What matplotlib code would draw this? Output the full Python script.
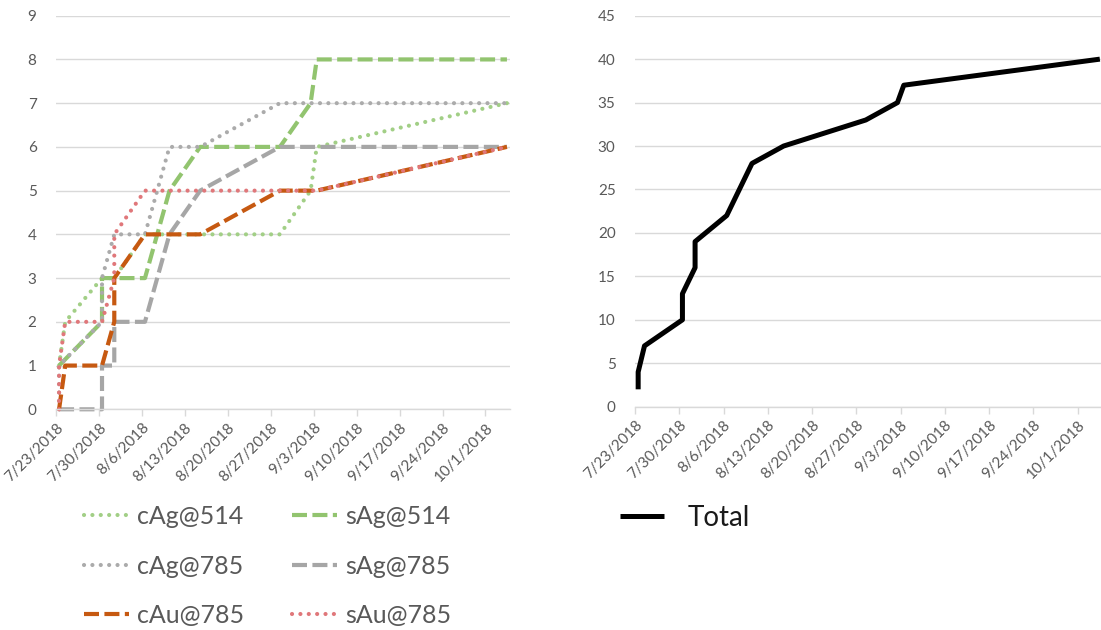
import matplotlib
matplotlib.use("Agg")
import matplotlib.pyplot as plt
import matplotlib.dates as mdates
import pandas as pd

plt.rcParams["font.family"] = ["Lato", "DejaVu Sans"]

# ---- data -------------------------------------------------------------
cag514_dates = ["2018-07-23", "2018-07-24", "2018-07-30", "2018-08-01", "2018-08-06",
                "2018-08-28", "2018-09-02", "2018-09-03", "2018-10-04"]
cag514_vals = [1, 2, 3, 3, 4, 4, 5, 6, 7]

sag514_dates = ["2018-07-23", "2018-07-30", "2018-07-30", "2018-08-06", "2018-08-10",
                "2018-08-15", "2018-08-28", "2018-09-02", "2018-09-03", "2018-10-04"]
sag514_vals = [1, 2, 3, 3, 5, 6, 6, 7, 8, 8]

cag785_dates = ["2018-07-23", "2018-07-23", "2018-07-30", "2018-07-30", "2018-08-01",
                "2018-08-06", "2018-08-10", "2018-08-15", "2018-08-28", "2018-10-04"]
cag785_vals = [0, 1, 2, 3, 4, 4, 6, 6, 7, 7]

sag785_dates = ["2018-07-23", "2018-07-30", "2018-07-30", "2018-08-01", "2018-08-01",
                "2018-08-06", "2018-08-10", "2018-08-15", "2018-08-28", "2018-10-04"]
sag785_vals = [0, 0, 1, 1, 2, 2, 4, 5, 6, 6]

cau785_dates = ["2018-07-23", "2018-07-24", "2018-07-30", "2018-08-01", "2018-08-01",
                "2018-08-06", "2018-08-15", "2018-08-28", "2018-09-03", "2018-10-04"]
cau785_vals = [0, 1, 1, 2, 3, 4, 4, 5, 5, 6]

sau785_dates = ["2018-07-23", "2018-07-23", "2018-07-24", "2018-07-30", "2018-08-01",
                "2018-08-01", "2018-08-06", "2018-09-03", "2018-10-04"]
sau785_vals = [0, 1, 2, 2, 3, 4, 5, 5, 6]

total_dates = ["2018-07-23", "2018-07-23", "2018-07-24", "2018-07-30", "2018-07-30",
               "2018-08-01", "2018-08-01", "2018-08-06", "2018-08-10", "2018-08-15",
               "2018-08-28", "2018-09-02", "2018-09-03", "2018-10-04"]
total_vals = [2, 4, 7, 10, 13, 16, 19, 22, 28, 30, 33, 35, 37, 40]

axis_start = "2018-07-23"
axis_end = "2018-10-05"
tick_dates = pd.date_range("2018-07-23", "2018-10-01", freq="7D")
tick_labels = [f"{d.month}/{d.day}/{d.year}" for d in tick_dates]

# ---- styling ----------------------------------------------------------
GRID = "#D9D9D9"
TXT = "#595959"
DOT = dict(linestyle=(0, (0.01, 2.0)), dash_capstyle="round", linewidth=3.0)
DASH = dict(linestyle=(0, (3.6, 1.3)), dash_capstyle="butt", linewidth=3.0)


def slot(dates):
    # points sit in the middle of each day slot on the date axis
    return mdates.date2num(pd.to_datetime(dates)) + 0.5


W, H = 1101, 630
fig = plt.figure(figsize=(W / 100, H / 100), dpi=100)
axL = fig.add_axes([56 / W, 1 - 409.3 / H, (510 - 56) / W, (409.3 - 15.7) / H])
axR = fig.add_axes([635 / W, 1 - 406.7 / H, (1103 - 635) / W, (406.7 - 15.7) / H])

for ax in (axL, axR):
    ax.set_xlim(mdates.date2num(pd.Timestamp(axis_start)), mdates.date2num(pd.Timestamp(axis_end)))
    ax.set_xticks(mdates.date2num(tick_dates))
    ax.set_xticklabels(tick_labels, rotation=45, ha="right", rotation_mode="anchor")
    ax.tick_params(axis="x", length=5, width=1, color=GRID, labelsize=11, labelcolor=TXT, pad=3)
    ax.tick_params(axis="y", length=0, labelsize=11, labelcolor=TXT, pad=14)
    ax.grid(axis="y", color=GRID, linewidth=1.0)
    ax.set_axisbelow(True)
    for s in ("top", "right", "left"):
        ax.spines[s].set_visible(False)
    ax.spines["bottom"].set_color(GRID)
    ax.spines["bottom"].set_linewidth(1.0)

axL.set_ylim(0, 9)
axL.set_yticks(range(0, 10))
axR.set_ylim(0, 45)
axR.set_yticks(range(0, 46, 5))

series = [
    ("cAg@514", cag514_dates, cag514_vals, "#A2CF86", DOT),
    ("sAg@514", sag514_dates, sag514_vals, "#92C46F", DASH),
    ("cAg@785", cag785_dates, cag785_vals, "#ABABAB", DOT),
    ("sAg@785", sag785_dates, sag785_vals, "#A6A6A6", DASH),
    ("cAu@785", cau785_dates, cau785_vals, "#C65911", DASH),
    ("sAu@785", sau785_dates, sau785_vals, "#E0777A", DOT),
]
handles = {}
for name, d, v, c, style in series:
    (ln,) = axL.plot(slot(d), v, color=c, label=name, clip_on=False,
                     solid_joinstyle="round", **style)
    handles[name] = ln

(tot,) = axR.plot(slot(total_dates), total_vals, color="black", linewidth=3.6,
                  solid_joinstyle="round", solid_capstyle="butt", clip_on=False, label="Total")

order = ["cAg@514", "cAg@785", "cAu@785", "sAg@514", "sAg@785", "sAu@785"]
legL = fig.legend([handles[n] for n in order], order, loc="upper left",
                  bbox_to_anchor=(84 / W, 1 - 505 / H), ncol=2, frameon=False,
                  fontsize=18, handlelength=1.8, handletextpad=0.3, columnspacing=1.95,
                  labelspacing=1.06, borderpad=0, borderaxespad=0)
for t in legL.get_texts():
    t.set_color(TXT)

legR = fig.legend([tot], ["Total"], loc="upper left", bbox_to_anchor=(620 / W, 1 - 505 / H),
                  frameon=False, fontsize=20, handlelength=1.6, handletextpad=0.85,
                  borderpad=0, borderaxespad=0)
for t in legR.get_texts():
    t.set_color("#1A1A1A")

fig.savefig("out.png", dpi=100)
